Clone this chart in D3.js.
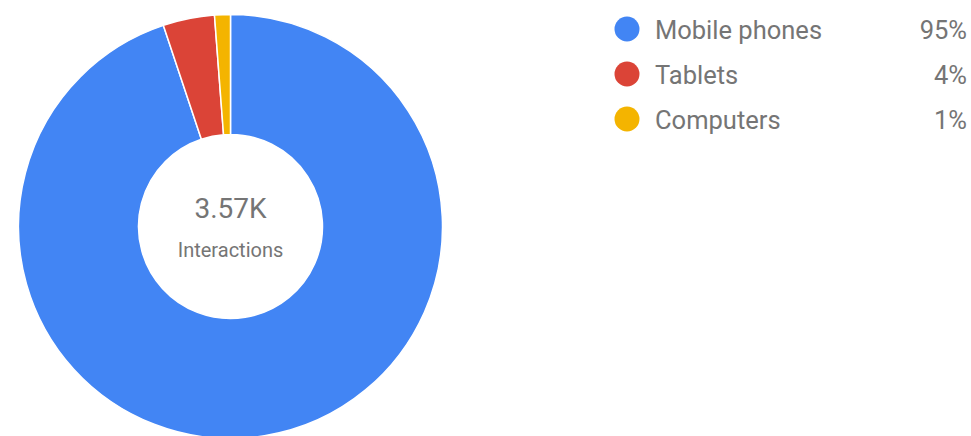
<!DOCTYPE html>
<html>
<head>
<meta charset="utf-8">
<script src="https://cdn.jsdelivr.net/npm/d3@7.9.0/dist/d3.min.js"></script>
<style>
  body { margin: 0; background: #fff; }
  svg { display: block; font-family: Roboto, "Noto Sans", sans-serif; }
</style>
</head>
<body>
<svg id="chart" width="971" height="436"></svg>
<script>
// data
const categories = ['Mobile phones', 'Tablets', 'Computers'];
const values = [3387, 140, 43];
const percentLabels = ['95%', '4%', '1%'];
const colorList = ['#4285f4', '#db4437', '#f4b400'];
const totalLabel = '3.57K';
const centerCaption = 'Interactions';

const svg = d3.select('#chart');
const cx = 230.5, cy = 226.5;
const outerR = 212, innerR = 92;

let data = categories.map((c, i) => ({ label: c, value: values[i], pct: percentLabels[i] }));
let colors = d3.scaleOrdinal().domain(categories).range(colorList);

let pie = d3.pie().value(d => d.value).sort(null);
let arcGenerator = d3.arc().innerRadius(innerR).outerRadius(outerR);

const g = svg.append('g').attr('transform', `translate(${cx},${cy})`);
g.selectAll('path')
  .data(pie(data))
  .join('path')
  .attr('d', arcGenerator)
  .attr('fill', d => colors(d.data.label))
  .attr('stroke', '#fff')
  .attr('stroke-width', 1.5);

g.append('text')
  .attr('x', 0).attr('y', -9)
  .attr('text-anchor', 'middle')
  .attr('font-size', 28)
  .attr('fill', '#757575')
  .text(totalLabel);

g.append('text')
  .attr('x', 0).attr('y', 30.5)
  .attr('text-anchor', 'middle')
  .attr('font-size', 20)
  .attr('fill', '#757575')
  .text(centerCaption);

// legend
let rowY = d3.scaleBand().domain(categories).range([6.5, 141.5]);
const legend = svg.append('g');
const rows = legend.selectAll('g.item')
  .data(data)
  .join('g')
  .attr('class', 'item')
  .attr('transform', d => `translate(0,${rowY(d.label) + rowY.bandwidth() / 2})`);

rows.append('circle')
  .attr('cx', 627).attr('cy', 0).attr('r', 12.5)
  .attr('fill', d => colors(d.label));

rows.append('text')
  .attr('x', 655).attr('y', 10)
  .attr('font-size', 25.5)
  .attr('fill', '#757575')
  .text(d => d.label);

rows.append('text')
  .attr('x', 967).attr('y', 10)
  .attr('text-anchor', 'end')
  .attr('font-size', 25.5)
  .attr('fill', '#757575')
  .text(d => d.pct);
</script>
</body>
</html>
